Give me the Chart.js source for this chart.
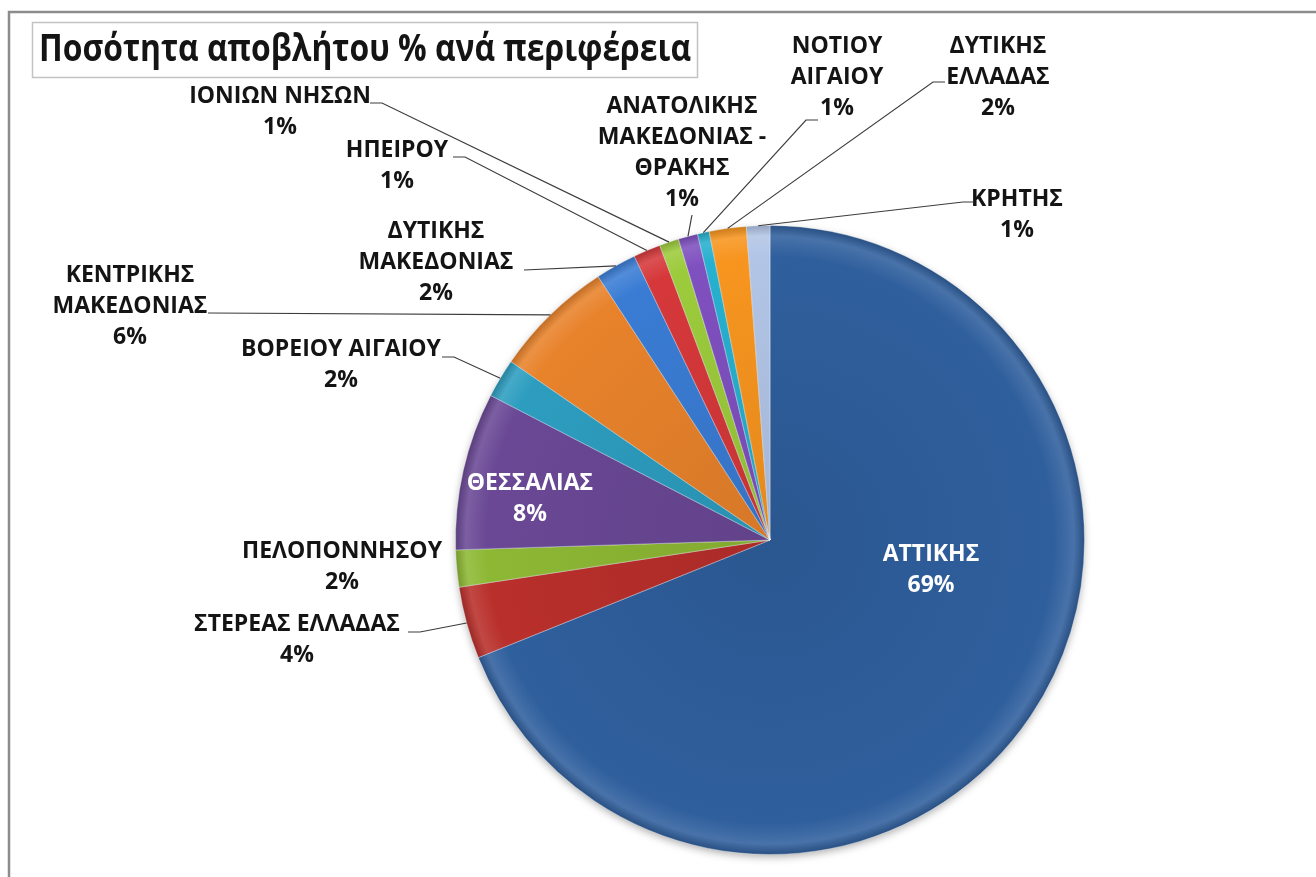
<!DOCTYPE html>
<html>
<head>
<meta charset="utf-8">
<script src="https://cdn.jsdelivr.net/npm/chart.js@4/dist/chart.umd.min.js"></script>
<style>
  html, body { margin: 0; padding: 0; background: #fff; }
  #wrap { width: 1316px; height: 877px; position: relative; }
</style>
</head>
<body>
<div id="wrap"><canvas id="myChart"></canvas></div>
<script>
// data, clockwise from 12 o'clock
var categories = [
  ['ΑΤΤΙΚΗΣ'],
  ['ΣΤΕΡΕΑΣ ΕΛΛΑΔΑΣ'],
  ['ΠΕΛΟΠΟΝΝΗΣΟΥ'],
  ['ΘΕΣΣΑΛΙΑΣ'],
  ['ΒΟΡΕΙΟΥ ΑΙΓΑΙΟΥ'],
  ['ΚΕΝΤΡΙΚΗΣ', 'ΜΑΚΕΔΟΝΙΑΣ'],
  ['ΔΥΤΙΚΗΣ', 'ΜΑΚΕΔΟΝΙΑΣ'],
  ['ΗΠΕΙΡΟΥ'],
  ['ΙΟΝΙΩΝ ΝΗΣΩΝ'],
  ['ΑΝΑΤΟΛΙΚΗΣ', 'ΜΑΚΕΔΟΝΙΑΣ -', 'ΘΡΑΚΗΣ'],
  ['ΝΟΤΙΟΥ', 'ΑΙΓΑΙΟΥ'],
  ['ΔΥΤΙΚΗΣ', 'ΕΛΛΑΔΑΣ'],
  ['ΚΡΗΤΗΣ']
];
var values = [68.9, 3.7, 1.9, 8.1, 2.0, 6.2, 2.1, 1.4, 1.0, 1.0, 0.6, 1.9, 1.2];
var chartTitle = 'Ποσότητα αποβλήτου % ανά περιφέρεια';

// styles
var palette = ['#2f5f9d', '#b92f2b', '#8db834', '#6a4895', '#2d9dbf', '#e8822b',
               '#3a7cd4', '#d6383a', '#9ccb3c', '#7f50bf', '#27b0cf', '#f7951f', '#b2c5e6'];

// label placement: baseline of first line, leader start + stub length
var labelLayout = [
  { x: 931, y: 561, inside: true },
  { x: 297, y: 631, lead: [408, 632, 12] },
  { x: 342, y: 558 },
  { x: 530, y: 490, inside: true },
  { x: 341, y: 356, lead: [442, 357, 12] },
  { x: 130, y: 282, lead: [208, 313, 0] },
  { x: 436, y: 238, lead: [524, 270, 0] },
  { x: 397, y: 157, lead: [453, 157, 12] },
  { x: 280, y: 103, lead: [370, 103, 12] },
  { x: 682, y: 113, lead: [692, 215, 0] },
  { x: 837, y: 53, lead: [818, 120, -12] },
  { x: 998, y: 53, lead: [945, 82, -12] },
  { x: 1017, y: 206, lead: [973, 202, -10] }
];
var lineStep = 31;

function shade(hex, amt) {
  var n = parseInt(hex.slice(1), 16);
  var r = (n >> 16) & 255, g = (n >> 8) & 255, b = n & 255;
  function f(c) {
    c = amt < 0 ? c * (1 + amt) : c + (255 - c) * amt;
    return Math.round(Math.max(0, Math.min(255, c)));
  }
  return 'rgb(' + f(r) + ',' + f(g) + ',' + f(b) + ')';
}

function sliceFill(context) {
  var base = palette[context.dataIndex];
  var area = context.chart.chartArea;
  if (!area) return base;
  var cx = (area.left + area.right) / 2, cy = (area.top + area.bottom) / 2;
  var r = Math.min(area.right - area.left, area.bottom - area.top) / 2;
  var g = context.chart.ctx.createRadialGradient(cx, cy, 0, cx, cy, r);
  g.addColorStop(0, shade(base, -0.08));
  g.addColorStop(0.9, base);
  g.addColorStop(0.965, shade(base, 0.12));
  g.addColorStop(1, shade(base, -0.18));
  return g;
}

var sliceLabels = {
  id: 'sliceLabels',
  beforeDatasetsDraw: function(chart) {
    var arcs = chart.getDatasetMeta(0).data;
    if (!arcs.length) return;
    var p = arcs[0].getProps(['x', 'y', 'outerRadius'], true);
    var ctx = chart.ctx;
    ctx.save();
    ctx.shadowColor = 'rgba(0,0,0,0.35)';
    ctx.shadowBlur = 8;
    ctx.shadowOffsetY = 3;
    ctx.fillStyle = '#2f5f9d';
    ctx.beginPath();
    ctx.arc(p.x, p.y, p.outerRadius - 1, 0, Math.PI * 2);
    ctx.fill();
    ctx.restore();
  },
  afterDatasetsDraw: function(chart) {
    var ctx = chart.ctx;
    var arcs = chart.getDatasetMeta(0).data;
    var total = values.reduce(function(a, b) { return a + b; }, 0);
    ctx.save();
    ctx.font = 'bold 23px "Open Sans"';
    ctx.textAlign = 'center';
    ctx.textBaseline = 'alphabetic';
    arcs.forEach(function(arc, i) {
      var L = labelLayout[i];
      var lines = categories[i].concat([Math.round(values[i] / total * 100) + '%']);
      ctx.fillStyle = L.inside ? '#ffffff' : '#141414';
      lines.forEach(function(t, k) {
        ctx.fillText(t, L.x, L.y + k * lineStep);
      });
      if (L.lead) {
        var p = arc.getProps(['x', 'y', 'startAngle', 'endAngle', 'outerRadius'], true);
        var a = (p.startAngle + p.endAngle) / 2;
        var ex = p.x + Math.cos(a) * p.outerRadius;
        var ey = p.y + Math.sin(a) * p.outerRadius;
        ctx.strokeStyle = '#3c3c3c';
        ctx.lineWidth = 1.2;
        ctx.beginPath();
        ctx.moveTo(L.lead[0], L.lead[1]);
        ctx.lineTo(L.lead[0] + L.lead[2], L.lead[1]);
        ctx.lineTo(ex, ey);
        ctx.stroke();
      }
    });
    ctx.restore();
  },
  afterDraw: function(chart) {
    var ctx = chart.ctx;
    ctx.save();
    // outer frame (runs off the right and bottom)
    ctx.strokeStyle = '#8c8c8c';
    ctx.lineWidth = 2.5;
    ctx.beginPath();
    ctx.moveTo(9, 900);
    ctx.lineTo(9, 12);
    ctx.lineTo(1330, 12);
    ctx.stroke();
    // title box
    ctx.strokeStyle = '#c3c3c3';
    ctx.lineWidth = 1.5;
    ctx.strokeRect(32.5, 22.5, 665, 55);
    ctx.fillStyle = '#141414';
    ctx.font = 'bold 38px "Open Sans"';
    ctx.textAlign = 'left';
    ctx.textBaseline = 'alphabetic';
    ctx.fillText(chartTitle, 39, 61, 652);
    ctx.restore();
  }
};

var ctx = document.getElementById('myChart').getContext('2d');
var myChart = new Chart(ctx, {
  type: 'pie',
  data: {
    labels: categories,
    datasets: [{
      label: 'Ποσότητα αποβλήτου %',
      data: values,
      backgroundColor: sliceFill,
      borderColor: 'rgba(255,255,255,0.35)',
      borderWidth: 1
    }]
  },
  options: {
    responsive: true,
    maintainAspectRatio: false,
    animation: false,
    devicePixelRatio: 1,
    layout: { padding: { left: 455, right: 231, top: 225, bottom: 22 } },
    plugins: {
      legend: { display: false },
      tooltip: { enabled: false },
      title: { display: false }
    }
  },
  plugins: [sliceLabels]
});
</script>
</body>
</html>
